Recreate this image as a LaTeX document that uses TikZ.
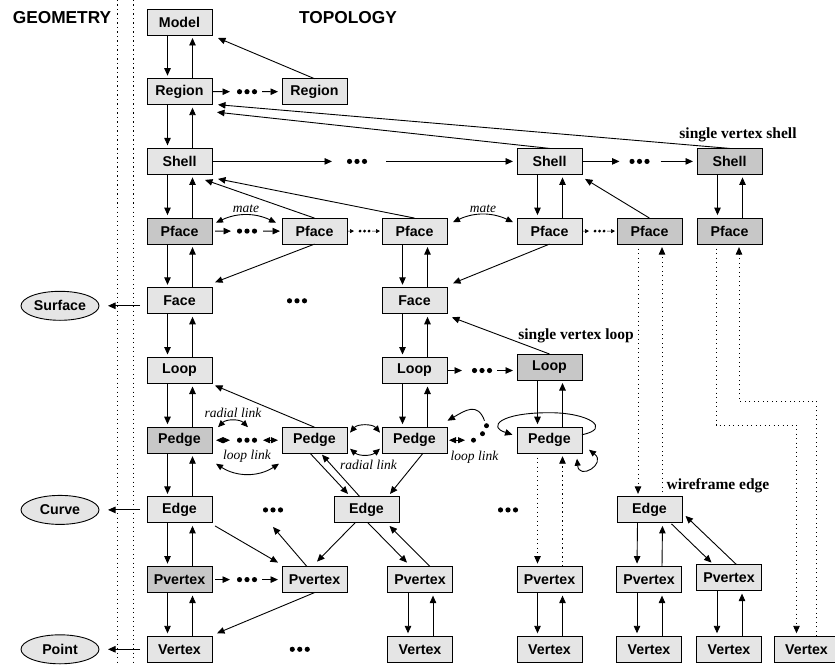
\documentclass[tikz,border=0pt]{standalone}
\usepackage{fontspec}
\setmainfont{Liberation Serif}
\setsansfont{Liberation Sans}
\usepackage{tikz}
\usetikzlibrary{shapes.geometric, arrows.meta, positioning, calc}
\tikzset{
  box/.style={rectangle, draw=black, line width=0.9pt, fill=black!10,
              minimum width=65pt, minimum height=26pt, inner sep=0pt, outer sep=0pt,
              font=\sffamily\bfseries\fontsize{14.2}{16}\selectfont},
  darkbox/.style={box, fill=black!22},
  geo/.style={ellipse, draw=black, line width=0.9pt, fill=black!10,
              minimum width=78pt, minimum height=29pt, inner sep=0pt, outer sep=0pt,
              font=\sffamily\bfseries\fontsize{14.2}{16}\selectfont},
  arrow/.style={-{Triangle[length=7.5pt,width=6.5pt]}, line width=0.9pt},
  link/.style={arrow, shorten >=3pt},
  dotlink/.style={link, dash pattern=on 1.2pt off 3.3pt},
  twoway/.style={{Triangle[length=7pt,width=6pt]}-{Triangle[length=7pt,width=6pt]},
                 line width=0.9pt},
  tiny/.style={-{Triangle[length=4pt,width=4pt]}, line width=0.7pt},
  sep/.style={line width=0.9pt, dash pattern=on 1.2pt off 3.3pt},
  dots3/.style={minimum width=20pt, minimum height=6pt, inner sep=0pt, outer sep=0pt,
    path picture={
      \fill ([xshift=-7.5pt]path picture bounding box.center) circle (2.6pt);
      \fill (path picture bounding box.center) circle (2.6pt);
      \fill ([xshift=7.5pt]path picture bounding box.center) circle (2.6pt);}},
  sdots3/.style={minimum width=13pt, minimum height=4pt, inner sep=0pt, outer sep=0pt,
    path picture={
      \fill ([xshift=-4.5pt]path picture bounding box.center) circle (1.6pt);
      \fill (path picture bounding box.center) circle (1.6pt);
      \fill ([xshift=4.5pt]path picture bounding box.center) circle (1.6pt);}},
  dot/.style={circle, fill=black, inner sep=0pt, outer sep=0pt, minimum size=5pt},
  lab/.style={inner sep=0pt, font=\rmfamily\itshape\fontsize{13.5}{15}\selectfont},
  note/.style={inner sep=0pt, font=\rmfamily\bfseries\fontsize{15.5}{18}\selectfont},
  head/.style={inner sep=0pt, font=\sffamily\bfseries\fontsize{17.3}{20}\selectfont},
}
\begin{document}
\begin{tikzpicture}[node distance=43.7pt]
\useasboundingbox (0,0) rectangle (835pt,-666pt);

% --- geometry / topology split ---
\node[head] (geom) at (62pt,-18pt) {GEOMETRY};
\node[head] (topo) at (348pt,-18pt) {TOPOLOGY};
\draw[sep] (117pt,0pt) -- (117pt,-666pt);
\draw[sep] (133pt,0pt) -- (133pt,-666pt);

% --- main column ---
\node[box] (model) at (179.5pt,-22pt) {Model};
\node[box, below=of model] (region1) {Region};
\node[box, below=of region1] (shell1) {Shell};
\node[darkbox, below=of shell1] (pface1) {Pface};
\node[box, below=of pface1] (face1) {Face};
\node[box, below=of face1] (loop1) {Loop};
\node[darkbox, below=of loop1] (pedge1) {Pedge};
\node[box, below=of pedge1] (edge1) {Edge};
\node[darkbox, below=of edge1] (pvert1) {Pvertex};
\node[box, below=of pvert1] (vert1) {Vertex};

% --- other entities ---
\node[box, right=70pt of region1] (region2) {Region};

\node[box, right=70pt of pface1] (pface2) {Pface};
\node[box, right=35pt of pface2] (pface3) {Pface};
\node[box, right=70pt of pface3] (pface4) {Pface};
\node[darkbox, right=35pt of pface4] (pface5) {Pface};
\node[darkbox, right=15pt of pface5] (pface6) {Pface};
\node[box, above=of pface4] (shell4) {Shell};
\node[darkbox, above=of pface6] (shell6) {Shell};

\node[box, below=of pface3] (face3) {Face};
\node[box, below=of face3] (loop3) {Loop};
\node[darkbox, right=70pt of loop3, yshift=3.5pt] (loop4) {Loop};
\node[box, below=of loop3] (pedge3) {Pedge};
\node[box, left=35pt of pedge3] (pedge2) {Pedge};
\node[box, right=70pt of pedge3] (pedge4) {Pedge};

\node[box, right=122pt of edge1] (edge2) {Edge};
\node[box, right=218pt of edge2] (edge5) {Edge};

\node[box, right=70pt of pvert1] (pvert2) {Pvertex};
\node[box, right=40.5pt of pvert2] (pvert3) {Pvertex};
\node[box, right=64.5pt of pvert3] (pvert4) {Pvertex};
\node[box, right=34.5pt of pvert4] (pvert5) {Pvertex};
\node[box, right=15pt of pvert5, yshift=2pt] (pvert6) {Pvertex};

\node[box, below=of pvert3] (vert3) {Vertex};
\node[box, below=of pvert4] (vert4) {Vertex};
\node[box, below=of pvert5] (vert5) {Vertex};
\node[box, right=15pt of vert5] (vert6) {Vertex};
\node[box, right=12.5pt of vert6] (vert7) {Vertex};

\node[geo, left=48pt of face1, yshift=-5pt] (surface) {Surface};
\node[geo, left=48pt of edge1] (curve) {Curve};
\node[geo, left=48pt of vert1] (point) {Point};

% --- ellipsis marks ---
\node[dots3] (rdots) at ($(region1)!0.5!(region2)$) {};
\node[dots3, right=135pt of shell1] (sdots1) {};
\node[dots3] (sdots2) at ($(shell4)!0.5!(shell6)$) {};
\node[dots3] (fdots1) at ($(pface1)!0.5!(pface2)$) {};
\node[sdots3] (fdots2) at ($(pface2)!0.5!(pface3)$) {};
\node[sdots3] (fdots3) at ($(pface4)!0.5!(pface5)$) {};
\node[dots3] (facedots) at ($(face1)!0.5!(face3)$) {};
\node[dots3] (ldots) at ($(loop3)!0.5!(loop3-|loop4)$) {};
\node[dots3] (pdots) at ($(pedge1)!0.5!(pedge2)$) {};
\node[dot, right=24pt of pedge3] (pd1) {};
\node[dot] (pd2) at ([shift={(9pt,6.5pt)}]pd1) {};
\node[dot] (pd3) at ([shift={(4pt,8pt)}]pd2) {};
\node[dots3] (edots1) at ($(edge1)!0.5!(edge2)$) {};
\node[dots3] (edots2) at ($(edge2)!0.5!(edge5)$) {};
\node[dots3] (vdots1) at ($(pvert1)!0.5!(pvert2)$) {};
\node[dots3] (vdots2) at ($(vert1)!0.5!(vert3)$) {};

% --- notes ---
\node[note] (svshell) at ([shift={(8.5pt,13.5pt)}]shell6.north) {single vertex shell};
\node[note] (svloop) at ([shift={(26.5pt,18.5pt)}]loop4.north) {single vertex loop};
\node[note] (wfedge) at ([shift={(68.5pt,11.5pt)}]edge5.north) {wireframe edge};

% --- down / up pairs ---
\draw[link] ([xshift=-12pt]model.south) -- ([xshift=-12pt]region1.north);
\draw[link] ([xshift=13pt]region1.north) -- ([xshift=13pt]model.south);
\draw[link] ([xshift=-12pt]region1.south) -- ([xshift=-12pt]shell1.north);
\draw[link] ([xshift=13pt]shell1.north) -- ([xshift=13pt]region1.south);
\draw[link] ([xshift=-12pt]shell1.south) -- ([xshift=-12pt]pface1.north);
\draw[link] ([xshift=13pt]pface1.north) -- ([xshift=13pt]shell1.south);
\draw[link] ([xshift=-12pt]pface1.south) -- ([xshift=-12pt]face1.north);
\draw[link] ([xshift=13pt]face1.north) -- ([xshift=13pt]pface1.south);
\draw[link] ([xshift=-12pt]face1.south) -- ([xshift=-12pt]loop1.north);
\draw[link] ([xshift=13pt]loop1.north) -- ([xshift=13pt]face1.south);
\draw[link] ([xshift=-12pt]loop1.south) -- ([xshift=-12pt]pedge1.north);
\draw[link] ([xshift=13pt]pedge1.north) -- ([xshift=13pt]loop1.south);
\draw[link] ([xshift=-12pt]pedge1.south) -- ([xshift=-12pt]edge1.north);
\draw[link] ([xshift=13pt]edge1.north) -- ([xshift=13pt]pedge1.south);
\draw[link] ([xshift=-12pt]edge1.south) -- ([xshift=-12pt]pvert1.north);
\draw[link] ([xshift=13pt]pvert1.north) -- ([xshift=13pt]edge1.south);
\draw[link] ([xshift=-12pt]pvert1.south) -- ([xshift=-12pt]vert1.north);
\draw[link] ([xshift=13pt]vert1.north) -- ([xshift=13pt]pvert1.south);

\draw[link] ([xshift=-12pt]shell4.south) -- ([xshift=-12pt]pface4.north);
\draw[link] ([xshift=13pt]pface4.north) -- ([xshift=13pt]shell4.south);
\draw[link] ([xshift=-12pt]shell6.south) -- ([xshift=-12pt]pface6.north);
\draw[link] ([xshift=13pt]pface6.north) -- ([xshift=13pt]shell6.south);
\draw[link] ([xshift=-12pt]pface3.south) -- ([xshift=-12pt]face3.north);
\draw[link] ([xshift=13pt]face3.north) -- ([xshift=13pt]pface3.south);
\draw[link] ([xshift=-12pt]face3.south) -- ([xshift=-12pt]loop3.north);
\draw[link] ([xshift=13pt]loop3.north) -- ([xshift=13pt]face3.south);
\draw[link] ([xshift=-12pt]loop3.south) -- ([xshift=-12pt]pedge3.north);
\draw[link] ([xshift=13pt]pedge3.north) -- ([xshift=13pt]loop3.south);
\draw[link] ([xshift=-12pt]loop4.south) -- ([xshift=-12pt]pedge4.north);
\draw[link] ([xshift=13pt]pedge4.north) -- ([xshift=13pt]loop4.south);
\draw[link] ([xshift=-12pt]edge5.south) -- ([xshift=-12pt]pvert5.north);
\draw[link] ([xshift=13pt]pvert5.north) -- ([xshift=13pt]edge5.south);
\draw[link] ([xshift=-12pt]pvert3.south) -- ([xshift=-12pt]vert3.north);
\draw[link] ([xshift=13pt]vert3.north) -- ([xshift=13pt]pvert3.south);
\draw[link] ([xshift=-12pt]pvert4.south) -- ([xshift=-12pt]vert4.north);
\draw[link] ([xshift=13pt]vert4.north) -- ([xshift=13pt]pvert4.south);
\draw[link] ([xshift=-12pt]pvert5.south) -- ([xshift=-12pt]vert5.north);
\draw[link] ([xshift=13pt]vert5.north) -- ([xshift=13pt]pvert5.south);
\draw[link] ([xshift=-12pt]pvert6.south) -- ([xshift=-12pt]vert6.north);
\draw[link] ([xshift=13pt]vert6.north) -- ([xshift=13pt]pvert6.south);

% dotted pairs
\draw[dotlink] ([xshift=-12pt]pedge4.south) -- ([xshift=-12pt]pvert4.north);
\draw[dotlink] ([xshift=13pt]pvert4.north) -- ([xshift=13pt]pedge4.south);
\draw[dotlink] ([xshift=-11.5pt]pface5.south) -- ([xshift=-11.5pt]edge5.north);
\draw[dotlink] ([xshift=12.5pt]edge5.north) -- ([xshift=12.5pt]pface5.south);
\draw[dotlink] ([xshift=-13.5pt]pface6.south) -- ([shift={(-13.5pt,-181pt)}]pface6.south)
  -| ([xshift=-10pt]vert7.north);
\draw[dotlink] ([xshift=10pt]vert7.north) |- ([shift={(9.5pt,-157pt)}]pface6.south)
  -- ([xshift=9.5pt]pface6.south);

% --- sequences ---
\draw[arrow, shorten >=7pt] (region1) -- (rdots);
\draw[arrow, shorten <=5pt, shorten >=4pt] (rdots) -- (region2);
\draw[arrow, shorten >=15pt] (shell1) -- (sdots1);
\draw[arrow, shorten <=19pt, shorten >=4pt] (sdots1) -- (shell4);
\draw[arrow, shorten >=10pt] (shell4) -- (sdots2);
\draw[arrow, shorten <=11pt, shorten >=4pt] (sdots2) -- (shell6);
\draw[arrow, shorten <=3pt, shorten >=6pt] (pface1) -- (fdots1);
\draw[arrow, shorten <=6pt, shorten >=2pt] (fdots1) -- (pface2);
\draw[tiny, shorten <=1pt, shorten >=4pt] (pface2) -- (fdots2);
\draw[tiny, shorten <=1pt, shorten >=2pt] (fdots2) -- (pface3);
\draw[tiny, shorten <=1pt, shorten >=4pt] (pface4) -- (fdots3);
\draw[tiny, shorten <=1pt, shorten >=2pt] (fdots3) -- (pface5);
\draw[arrow, shorten >=10pt] (loop3) -- (ldots);
\draw[arrow, shorten <=5pt, shorten >=4pt] (ldots) -- (ldots-|loop4.west);
\draw[twoway, shorten <=4pt, shorten >=7pt] (pedge1) -- (pdots);
\draw[twoway, shorten <=6pt, shorten >=4pt] (pdots) -- (pedge2);
\draw[twoway, shorten <=2pt, shorten >=6pt] (pedge3) -- (pd1);
\draw[arrow, shorten <=3pt, shorten >=7pt] (pvert1) -- (vdots1);
\draw[arrow, shorten <=5pt, shorten >=4pt] (vdots1) -- (pvert2);

% --- diagonal links ---
\draw[arrow] (region2.north) -- ([shift={(6pt,-3pt)}]model.south east);
\draw[arrow] (shell4.north) -- ([shift={(5pt,-7.5pt)}]region1.south east);
\draw[arrow] (shell6.north) -- ([shift={(6pt,0pt)}]region1.south east);
\draw[arrow] (pface2.north) -- ([shift={(-7pt,-5.5pt)}]shell1.south east);
\draw[arrow] (pface3.north) -- ([shift={(6pt,-4.5pt)}]shell1.south east);
\draw[arrow] (pface5.north) -- ([shift={(3pt,-4.5pt)}]shell4.south east);
\draw[arrow] (pface2.south) -- ([shift={(3pt,5.5pt)}]face1.north east);
\draw[arrow] (pface4.south) -- ([shift={(6pt,4.5pt)}]face3.north east);
\draw[arrow] (loop4.north) -- ([shift={(5pt,-3.5pt)}]face3.south east);
\draw[arrow] (pedge2.north) -- ([shift={(3pt,-2pt)}]loop1.south east);
\draw[arrow] ([xshift=-4.5pt]pedge2.south) -- ([shift={(-18.5pt,3pt)}]edge2.north);
\draw[arrow] ([xshift=-6.5pt]edge2.north) -- ([shift={(7.5pt,-1.5pt)}]pedge2.south);
\draw[arrow] ([xshift=8.5pt]pedge3.south) -- ([shift={(23.5pt,3pt)}]edge2.north);
\draw[arrow] ([shift={(3pt,-3pt)}]edge1.south east) -- ([shift={(-4pt,4pt)}]pvert2.north west);
\draw[arrow] ([xshift=-7.5pt]pvert2.north) -- ([yshift=-14pt]edots1.south);
\draw[arrow] ([xshift=-11.5pt]edge2.south) -- ([shift={(2.5pt,5pt)}]pvert2.north);
\draw[arrow] ([xshift=1.5pt]edge2.south) -- ([shift={(-13pt,4pt)}]pvert3.north);
\draw[arrow] ([xshift=10pt]pvert3.north) -- ([shift={(-9.5pt,-3pt)}]edge2.south east);
\draw[arrow] (pvert2.south) -- ([shift={(5pt,3pt)}]vert1.north east);
\draw[arrow] ([shift={(-10.5pt,-1pt)}]edge5.south east) -- ([shift={(-17.5pt,2pt)}]pvert6.north);
\draw[arrow] ([xshift=7.5pt]pvert6.north) -- ([shift={(3.5pt,-6pt)}]edge5.east);

% --- to geometry ---
\draw[arrow, shorten <=7pt, shorten >=9pt] (face1.west |- surface) -- (surface.east);
\draw[arrow, shorten <=7pt, shorten >=9pt] (edge1.west |- curve) -- (curve.east);
\draw[arrow, shorten <=7pt, shorten >=9pt] (vert1.west |- point) -- (point.east);

% --- mate / radial / loop links ---
\draw[twoway] ([shift={(4pt,-4.5pt)}]pface1.north east) to[bend left=25]
  node[lab, above=2pt] (mate1) {mate} ([shift={(-6pt,-4.5pt)}]pface2.north west);
\draw[twoway] ([shift={(6pt,-4pt)}]pface3.north east) to[bend left=25]
  node[lab, above=2pt] (mate2) {mate} ([shift={(-4pt,-4pt)}]pface4.north west);
\draw[twoway] ([xshift=6pt]pedge1.north east) to[bend left=45]
  node[lab, above=3pt] (radial1) {radial link} ([xshift=36pt]pedge1.north east);
\draw[twoway] ([shift={(4pt,-10.5pt)}]pedge1.south east) to[bend right=33]
  ([shift={(-3pt,-10.5pt)}]pedge2.south west);
\node[lab] (looplink1) at ($(pedge1.south east)!0.5!(pedge2.south west)+(0,-3.5pt)$) {loop link};
\draw[twoway] ([shift={(3pt,-5.5pt)}]pedge2.north east) to[bend left=50]
  ([shift={(-2pt,-5.5pt)}]pedge3.north west);
\draw[twoway] ([shift={(3pt,4.5pt)}]pedge2.south east) to[bend right=40]
  ([shift={(-2pt,4.5pt)}]pedge3.south west);
\node[lab] (radial2) at ($(pedge2.south east)!0.5!(pedge3.south west)+(4pt,-12pt)$) {radial link};
\draw[arrow] ([shift={(-2pt,5pt)}]pd3.center) to[out=110, in=30, looseness=1.4]
  ([shift={(0.5pt,6.5pt)}]pedge3.north east);
\node[lab] (looplink2) at ($(pedge3.south east)+(27.5pt,-4pt)$) {loop link};

% single vertex loop pedge
\draw[arrow] ([yshift=5.5pt]pedge4.east) .. controls +(30pt,6pt) and +(40pt,0pt)
  .. ([yshift=27.5pt]pedge4.center) .. controls +(-50pt,0pt) and +(-25pt,8pt)
  .. ([shift={(-4.5pt,5.5pt)}]pedge4.west);
\draw[twoway] ([shift={(-5pt,-5.5pt)}]pedge4.south east) .. controls +(2pt,-22pt)
  and +(18pt,-14pt) .. ([shift={(7pt,3.5pt)}]pedge4.south east);

\end{tikzpicture}
\end{document}
